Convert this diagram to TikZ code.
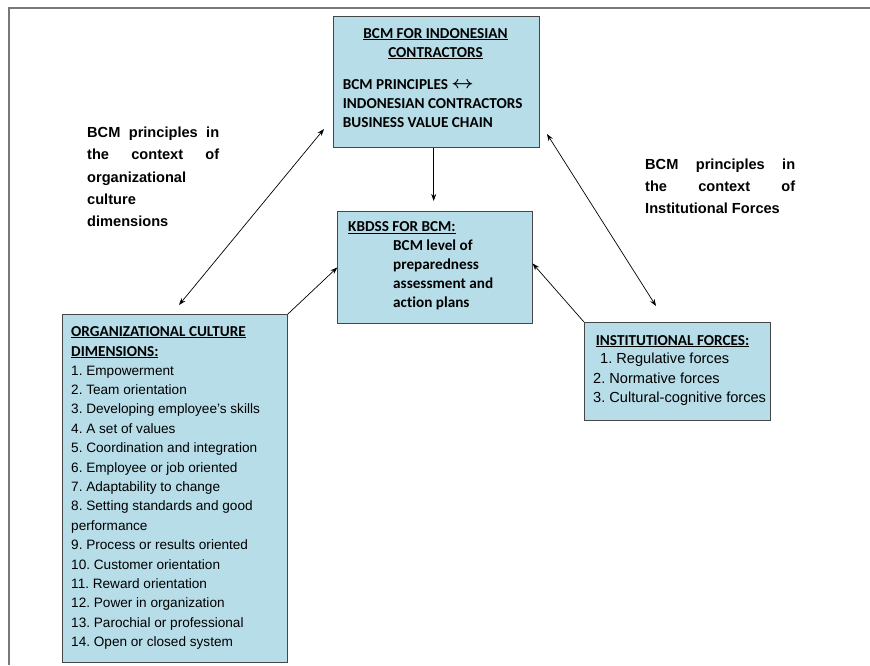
\documentclass[tikz,border=0pt]{standalone}
\usepackage{fontspec}
\setmainfont{Liberation Sans}
\newfontfamily\calib[Ligatures=NoCommon]{Carlito}
\usetikzlibrary{arrows.meta,calc}
\definecolor{boxfill}{RGB}{183,221,232}
\definecolor{boxline}{RGB}{70,70,70}
\definecolor{frameline}{RGB}{120,120,120}
\frenchspacing
\begin{document}
\begin{tikzpicture}[x=1pt,y=-1pt,
  panel/.style={draw=boxline, fill=boxfill, line width=0.9pt, inner sep=0pt, anchor=north west},
  cal/.style={font=\calib\bfseries\fontsize{15.2}{18}\selectfont, inner sep=0pt, anchor=base west},
  calm/.style={cal, anchor=base},
  item/.style={font=\fontsize{13.6}{16}\selectfont, inner sep=0pt, anchor=base west},
  iitem/.style={font=\fontsize{14.6}{17}\selectfont, inner sep=0pt, anchor=base west},
  lbl/.style={font=\bfseries\fontsize{14.6}{17}\selectfont, inner sep=0pt, anchor=base west},
  link/.style={draw=black, line width=0.7pt, -{Stealth[length=7pt,width=5pt]}},
  dlink/.style={draw=black, line width=0.7pt, {Stealth[length=7pt,width=5pt]}-{Stealth[length=7pt,width=5pt]}},
]
\useasboundingbox (0,0) rectangle (870,665);
\draw[frameline, line width=1.3pt] (9,665) -- (9,8) -- (870,8);

% boxes
\node[panel, minimum width=205.5pt, minimum height=131pt] (top) at (333,16) {};
\node[panel, minimum width=194.4pt, minimum height=112pt] (kb) at (337.3,211) {};
\node[panel, minimum width=224.7pt, minimum height=347.7pt] (org) at (62.3,314) {};
\node[panel, minimum width=186pt, minimum height=98pt] (inst) at (584,322) {};

% top box text
\node[calm] (th1) at (435.5,38) {\underline{BCM FOR INDONESIAN}};
\node[calm] (th2) at (435.5,57) {\underline{CONTRACTORS}};
\node[cal] (tb1) at (342.7,89) {BCM PRINCIPLES \raisebox{0.5pt}{\scalebox{1.35}[1.2]{\mathversion{bold}$\leftrightarrow$}}};
\node[cal] (tb2) at (342.7,108) {INDONESIAN CONTRACTORS};
\node[cal] (tb3) at (342.7,127) {BUSINESS VALUE CHAIN};

% KBDSS text
\node[cal] (kh) at (348,231.5) {\underline{KBDSS FOR BCM:}};
\node[cal] (k1) at (393,250) {BCM level of};
\node[cal] (k2) at (393,269) {preparedness};
\node[cal] (k3) at (393,288) {assessment and};
\node[cal] (k4) at (393,307) {action plans};

% org text
\node[cal] (oh1) at (71,336) {\underline{ORGANIZATIONAL CULTURE}};
\node[cal] (oh2) at (71,356) {\underline{DIMENSIONS:}};
\foreach \t [count=\k from 0] in {
  1. Empowerment,
  2. Team orientation,
  3. Developing employee’s skills,
  4. A set of values,
  5. Coordination and integration,
  6. Employee or job oriented,
  7. Adaptability to change,
  8. Setting standards and good,
  performance,
  9. Process or results oriented,
  10. Customer orientation,
  11. Reward orientation,
  12. Power in organization,
  13. Parochial or professional,
  14. Open or closed system}
  \node[item] (oi\k) at (71,375+19.4*\k) {\t};

% institutional text
\node[cal] (ih) at (595.7,345) {\underline{INSTITUTIONAL FORCES:}};
\node[iitem] (ii1) at (600,363) {1. Regulative forces};
\node[iitem] (ii2) at (593,383) {2. Normative forces};
\node[iitem] (ii3) at (593,402.7) {3. Cultural-cognitive forces};

% labels
\node[lbl] (l1) at (87,137) {\makebox[132pt][s]{BCM principles in}};
\node[lbl] (l2) at (87,159) {\makebox[132pt][s]{the context of}};
\node[lbl] (l3) at (87,182) {organizational};
\node[lbl] (l4) at (87,204) {culture};
\node[lbl] (l5) at (87,226) {dimensions};
\node[lbl] (r1) at (645,169) {\makebox[150pt][s]{BCM principles in}};
\node[lbl] (r2) at (645,191.5) {\makebox[150pt][s]{the context of}};
\node[lbl] (r3) at (645,213.5) {Institutional Forces};

% connectors
\coordinate (ta) at ($(top.south)+(-2.5,0)$);
\coordinate (la) at (179,305);
\coordinate (lb) at (324,129);
\coordinate (ra) at (547,134);
\coordinate (rb) at (656,306);
\draw[link, shorten >=10pt] (ta) -- (ta |- kb.north);
\draw[dlink] (la) -- (lb);
\draw[dlink] (ra) -- (rb);
\draw[link] (org.north east) -- (kb.west);
\draw[link] (inst.north west) -- ($(kb.east)+(0,-4)$);
\end{tikzpicture}
\end{document}
